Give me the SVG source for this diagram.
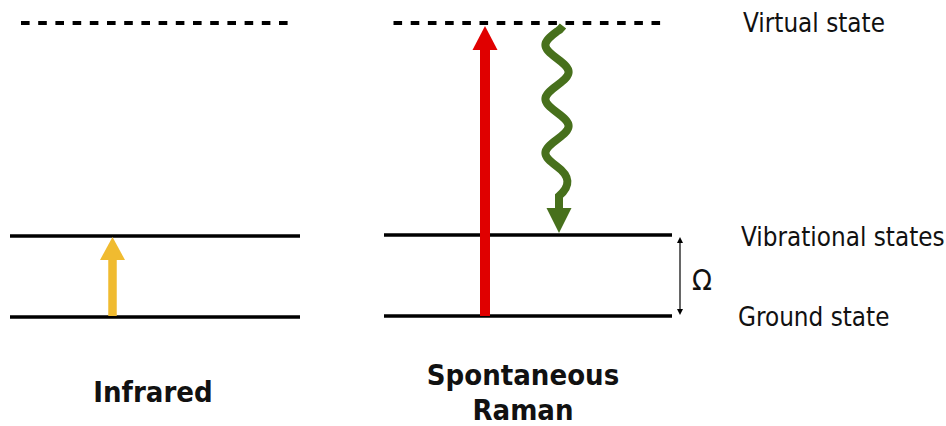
<svg xmlns="http://www.w3.org/2000/svg" width="946" height="426" viewBox="0 0 946 426">
<style>
.lvl{stroke:#000;stroke-width:3.5;fill:none}
.virt{stroke:#000;stroke-width:4;stroke-dasharray:8.6 8.6;fill:none}
.lbl{font-family:"DejaVu Sans Condensed","DejaVu Sans",sans-serif;font-stretch:condensed;font-size:25.8px;fill:#111}
.ttl{font-family:"DejaVu Sans Condensed","DejaVu Sans",sans-serif;font-stretch:condensed;font-size:29px;font-weight:bold;fill:#111;text-anchor:middle}
</style>
<defs>
<marker id="sm" viewBox="0 0 6 6" refX="3" refY="3" markerWidth="6" markerHeight="6" orient="auto-start-reverse" markerUnits="userSpaceOnUse">
<path d="M0,0 L6,3 L0,6 Z" fill="#000"/>
</marker>
</defs>
<g id="infrared">
<line class="virt" x1="21" y1="23" x2="290" y2="23"/>
<line class="lvl" x1="10" y1="236" x2="300" y2="236"/>
<line class="lvl" x1="10" y1="317" x2="300" y2="317"/>
<text class="ttl" x="153" y="402">Infrared</text>
</g>
<g id="raman">
<line class="virt" x1="393.5" y1="23" x2="662" y2="23"/>
<line class="lvl" x1="384" y1="235" x2="672" y2="235"/>
<line class="lvl" x1="384" y1="316" x2="672" y2="316"/>
<text class="ttl" x="523" y="385">Spontaneous</text>
<text class="ttl" x="523" y="420">Raman</text>
</g>
<g id="labels">
<text class="lbl" x="743" y="32">Virtual state</text>
<text class="lbl" x="741" y="246">Vibrational states</text>
<text class="lbl" x="738" y="326">Ground state</text>
<text class="lbl" x="692" y="290" style="font-size:29px">Ω</text>
</g>
<g id="connectors">
<line x1="112.5" y1="316" x2="112.5" y2="258" stroke="#F0BB30" stroke-width="8.5"/>
<polygon points="100,260 125,260 112.5,237" fill="#F0BB30"/>
<line x1="485" y1="316" x2="485" y2="48" stroke="#E00000" stroke-width="10"/>
<polygon points="472.5,50 497.5,50 485,26" fill="#E00000"/>
<path d="M563,26 Q560,30 557,31.5 C541.5,43 541.5,47 557,58.5 C572.5,70 572.5,74 557,85.5 C541.5,97 541.5,101 557,112.5 C572.5,124 572.5,128 557,139.5 C541.5,151 541.5,155 557,166.5 C570,176 571,186 559,196 L559,210" fill="none" stroke="#47701C" stroke-width="8"/>
<polygon points="546.5,208 571.5,208 559,233" fill="#47701C"/>
<line x1="680" y1="240" x2="680" y2="312" stroke="#000" stroke-width="1.2" marker-start="url(#sm)" marker-end="url(#sm)"/>
</g>
</svg>
